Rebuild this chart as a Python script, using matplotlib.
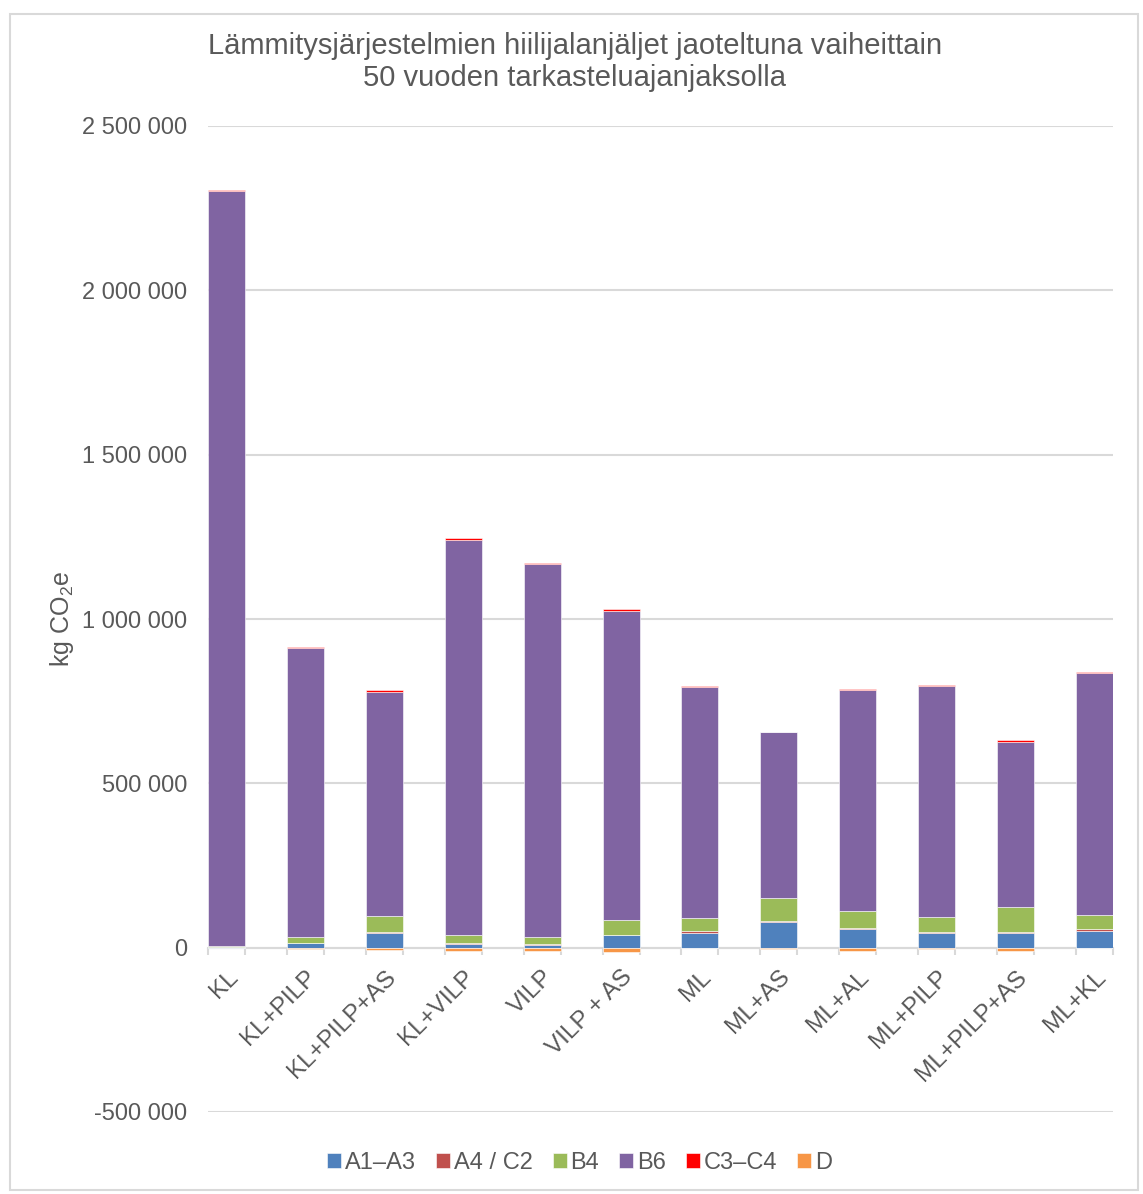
import numpy as np
import matplotlib
matplotlib.use("Agg")
from matplotlib import pyplot as plt
from matplotlib.patches import Rectangle
from matplotlib.ticker import FuncFormatter, FixedLocator

# datos (kg CO2e)
kategoriat = ["KL", "KL+PILP", "KL+PILP+AS", "KL+VILP", "VILP", "VILP + AS",
              "ML", "ML+AS", "ML+AL", "ML+PILP", "ML+PILP+AS", "ML+KL"]

a1_a3 = [1000, 14000, 45000, 12000, 8000, 38000, 46000, 77000, 57000, 45000, 45000, 51000]
a4_c2 = [500, 1000, 1500, 1500, 2000, 1500, 4000, 4000, 4000, 1500, 4000, 5000]
b4 = [5000, 17000, 50000, 24000, 21000, 44000, 40000, 71000, 51000, 47000, 76000, 43000]
b6 = [2296000, 879000, 681000, 1204000, 1136000, 942000, 703000, 503000, 673000, 704000, 502000, 737000]
c3_c4 = [4000, 4500, 5000, 4000, 4000, 4000, 4000, 2000, 3000, 2000, 5000, 3000]
d = [-500, -3000, -6000, -10000, -10000, -14000, -2000, -3000, -10000, -5000, -10000, -1000]

sarjat = ["A1–A3", "A4 / C2", "B4", "B6", "C3–C4", "D"]
varit = ["#4F81BD", "#C0504D", "#9BBB59", "#8064A2", "#FF0000", "#F79646"]

harmaa = "#595959"
plt.rcParams["font.family"] = ["Liberation Sans", "DejaVu Sans"]
plt.rcParams["mathtext.fontset"] = "custom"
plt.rcParams["mathtext.rm"] = "Liberation Sans"
plt.rcParams["mathtext.it"] = "Liberation Sans:italic"

fig = plt.figure(figsize=(11.43, 11.94), dpi=100)
ax = fig.add_axes([208 / 1143, 1 - 1112 / 1194, 905 / 1143, (1112 - 126) / 1194])

x = np.arange(len(kategoriat))
w = 0.47

#apilar las series positivas
pohja = np.zeros(len(kategoriat))
for arvot, nimi, vari in zip([a1_a3, a4_c2, b4, b6, c3_c4], sarjat[:5], varit[:5]):
    ax.bar(x, arvot, w, bottom=pohja, color=vari, label=nimi, zorder=3,
           edgecolor="white", linewidth=0.4)
    pohja = pohja + np.array(arvot)
#serie negativa
ax.bar(x, d, w, color=varit[5], label=sarjat[5], zorder=3, edgecolor="white", linewidth=0.4)

ax.set_ylim(-500000, 2500000)
ax.set_xlim(-w / 2, len(kategoriat) - 1 + w / 2)
ax.set_yticks(np.arange(-500000, 2500001, 500000))
ax.yaxis.set_major_formatter(FuncFormatter(lambda v, p: f"{int(v):,}".replace(",", " ")))
ax.grid(axis="y", color="#d9d9d9", linewidth=1.5, zorder=0)
ax.tick_params(axis="y", length=0, pad=15, labelsize=17, labelcolor=harmaa)

for s in ["left", "right", "top"]:
    ax.spines[s].set_visible(False)
ax.spines["bottom"].set_position(("data", 0))
ax.spines["bottom"].set_color("#d9d9d9")
ax.spines["bottom"].set_linewidth(1.5)
ax.spines["bottom"].set_zorder(2)

ax.set_xticks(x)
ax.set_xticklabels(kategoriat, rotation=45, ha="right", va="top", rotation_mode="anchor")
ax.tick_params(axis="x", which="major", length=0, pad=13, labelsize=17.5, labelcolor=harmaa)
reunat = np.sort(np.concatenate([x - w / 2, x + w / 2]))
ax.xaxis.set_minor_locator(FixedLocator(reunat))
ax.tick_params(axis="x", which="minor", length=5, width=1.5, color="#d9d9d9", direction="out")

ax.set_ylabel("kg CO$_2$e", fontsize=18, color=harmaa)
ax.yaxis.set_label_coords((76 - 208) / 905, 0.5)

fig.text(0.503, 1 - 62 / 1194, "Lämmitysjärjestelmien hiilijalanjäljet jaoteltuna vaiheittain\n50 vuoden tarkasteluajanjaksolla",
         ha="center", va="center", fontsize=21, color=harmaa, linespacing=1.15)

kahvat, nimet = ax.get_legend_handles_labels()
fig.legend(kahvat, nimet, loc="center", bbox_to_anchor=(0.507, 1 - 1163 / 1194), ncol=6,
           frameon=False, fontsize=17, labelcolor=harmaa, handlelength=0.6, handleheight=0.6,
           handletextpad=0.15, columnspacing=0.85)

#borde del area del grafico
fig.add_artist(Rectangle((10 / 1143, 4 / 1194), 1128 / 1143, 1176 / 1194, transform=fig.transFigure,
                         fill=False, edgecolor="#d9d9d9", linewidth=1.5))

plt.savefig("out.png", dpi=100)
